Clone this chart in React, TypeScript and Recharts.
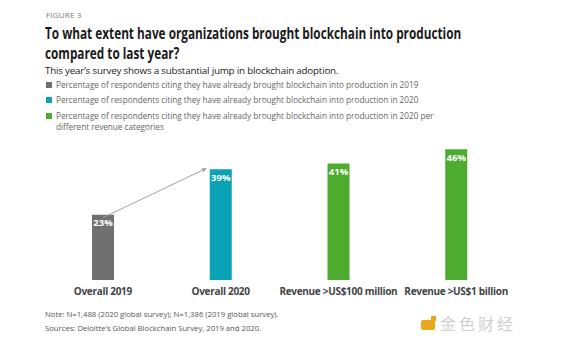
import React from "react";
import { BarChart, Bar, XAxis, YAxis, Cell, LabelList, ReferenceLine } from "recharts";

const categories = ["Overall 2019", "Overall 2020", "Revenue >US$100 million", "Revenue >US$1 billion"];
const values = [23, 39, 41, 46];
const colors = ["#707070", "#0aa3b5", "#4dab2f", "#4dab2f"];
const titleLines = ["To what extent have organizations brought blockchain into production", "compared to last year?"];
const legendItems = [
  { color: "#707070", text: "Percentage of respondents citing they have already brought blockchain into production in 2019" },
  { color: "#0aa3b5", text: "Percentage of respondents citing they have already brought blockchain into production in 2020" },
  { color: "#4dab2f", text: "Percentage of respondents citing they have already brought blockchain into production in 2020 per different revenue categories" },
];

const data = categories.map((c, i) => ({ name: c, value: values[i] }));
const font = "'Open Sans', 'Liberation Sans', sans-serif";

const Arrow = (props: any) => {
  const { x1, y1, x2, y2 } = props;
  if (x1 == null) return null;
  const sx = x1, sy = y1 + 3;
  const ex = x2 - 14, ey = y2 - 1;
  const ang = Math.atan2(ey - sy, ex - sx);
  const L = 5;
  const a1 = [ex - L * Math.cos(ang - 0.45), ey - L * Math.sin(ang - 0.45)];
  const a2 = [ex - L * Math.cos(ang + 0.45), ey - L * Math.sin(ang + 0.45)];
  return (
    <g>
      <line x1={sx} y1={sy} x2={ex} y2={ey} stroke="#a0a0a0" strokeWidth={1} />
      <polygon points={`${ex},${ey} ${a1[0]},${a1[1]} ${a2[0]},${a2[1]}`} fill="#a0a0a0" />
    </g>
  );
};

const Tick = (props: any) => {
  const { x, y, payload } = props;
  return (
    <text x={x} y={y + 7} textAnchor="middle" fontFamily={font} fontWeight={700} fontSize={10} letterSpacing={-0.3} fill="#444">
      {payload.value}
    </text>
  );
};

export default function App() {
  return (
    <div style={{ position: "absolute", left: 0, top: 0, width: 563, height: 347, background: "#fff", overflow: "hidden", fontFamily: font }}>
      <div style={{ position: "absolute", left: 46, top: 9, fontSize: 8, color: "#777", letterSpacing: 0.2 }}>FIGURE 3</div>
      {titleLines.map((l, i) => (
        <div key={i} style={{ position: "absolute", left: 45, top: 24 + i * 20, fontSize: 15.5, fontWeight: 700, color: "#1a1a1a", lineHeight: "18px", whiteSpace: "nowrap", transform: "scaleX(0.76)", transformOrigin: "left top" }}>
          {l}
        </div>
      ))}
      <div style={{ position: "absolute", left: 45, top: 64, fontSize: 9.8, color: "#222", letterSpacing: -0.2 }}>
        This year’s survey shows a substantial jump in blockchain adoption.
      </div>
      {legendItems.map((it, i) => (
        <div key={i} style={{ position: "absolute", left: 46, top: 79 + i * 15.3, width: 410, fontSize: 8.2, color: "#666", lineHeight: "11px", display: "flex" }}>
          <div style={{ width: 6, height: 6, background: it.color, marginTop: 3, marginRight: 4, flexShrink: 0 }} />
          <div>{it.text}</div>
        </div>
      ))}
      <div style={{ position: "absolute", left: 0, top: 0 }}>
        <BarChart width={563} height={347} data={data} margin={{ top: 138, right: 48, bottom: 37, left: 44 }}>
          <XAxis dataKey="name" axisLine={false} tickLine={false} tick={<Tick />} interval={0} height={30} />
          <YAxis hide domain={[0, 50]} />
          <ReferenceLine segment={[{ x: categories[0], y: values[0] }, { x: categories[1], y: values[1] }]} shape={<Arrow />} ifOverflow="visible" />
          <Bar dataKey="value" barSize={22} isAnimationActive={false}>
            {data.map((d, i) => (
              <Cell key={i} fill={colors[i]} />
            ))}
            <LabelList dataKey="value" position="insideTop" offset={5} formatter={(v: any) => `${v}%`} fill="#fff" fontSize={9.5} fontWeight={700} fontFamily={font} />
          </Bar>
        </BarChart>
      </div>
      <div style={{ position: "absolute", left: 45, top: 307, fontSize: 7.7, color: "#555", lineHeight: "14px" }}>
        <div>Note: N=1,488 (2020 global survey); N=1,386 (2019 global survey).</div>
        <div>Sources: Deloitte’s Global Blockchain Survey, 2019 and 2020.</div>
      </div>
      <div style={{ position: "absolute", left: 421, top: 316, width: 14, height: 14 }}>
        <div style={{ position: "absolute", left: 0, top: 4, width: 14, height: 10, background: "#e8a91c", borderRadius: 2 }} />
        <div style={{ position: "absolute", left: 10, top: 0, width: 5, height: 5, background: "#e8a91c" }} />
      </div>
      <div style={{ position: "absolute", left: 440, top: 313, fontSize: 16, color: "#cfcfcf", fontFamily: "'Noto Sans CJK SC', sans-serif", letterSpacing: 3, lineHeight: "20px" }}>
        金色财经
      </div>
    </div>
  );
}
